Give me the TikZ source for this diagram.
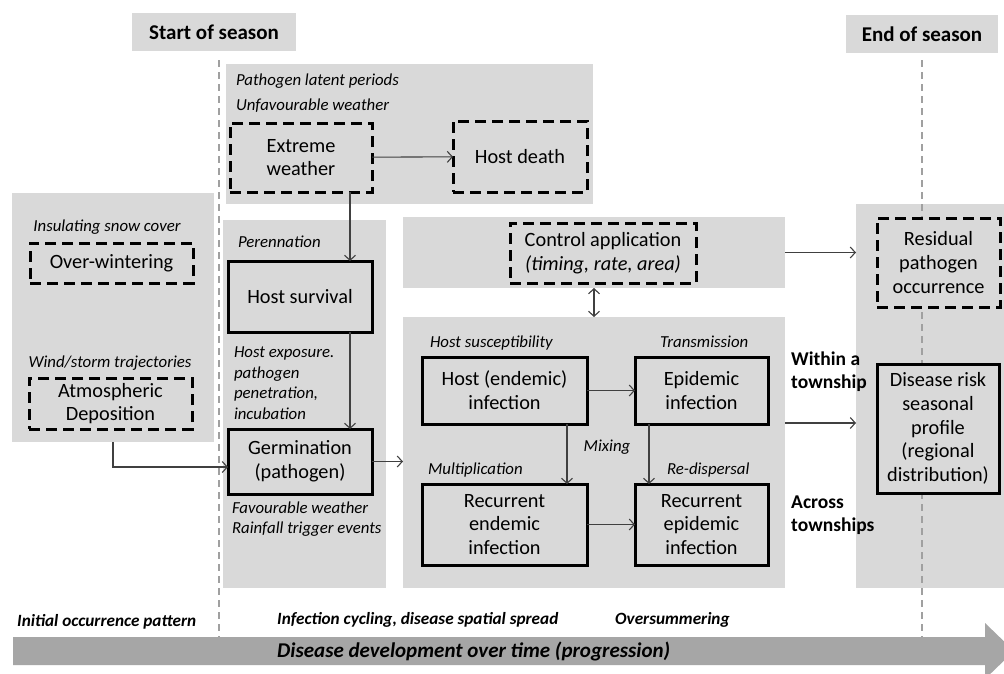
\documentclass[tikz,border=0pt]{standalone}
\usepackage{fontspec}
\setmainfont{Carlito}
\usetikzlibrary{arrows.meta}
\definecolor{gfill}{HTML}{D9D9D9}
\definecolor{arrgray}{HTML}{404040}
\definecolor{dashgray}{HTML}{A0A0A0}
\definecolor{bigarrow}{HTML}{A6A6A6}
\newcommand\fmain{\fontsize{20.3}{23.8}\selectfont}
\newcommand\flab{\fontsize{16.8}{20.5}\selectfont\itshape}
\newcommand\fhead{\fontsize{21}{24}\selectfont\bfseries}
\newcommand\fside{\fontsize{19.5}{23}\selectfont\bfseries}
\newcommand\fbot{\fontsize{17.2}{19}\selectfont\bfseries\itshape}
\newcommand\fbig{\fontsize{21}{24}\selectfont\bfseries\itshape}
\begin{document}
\begin{tikzpicture}[x=1pt,y=-1pt,
  greg/.style={fill=gfill,draw=none,inner sep=0pt,outer sep=0pt},
  sbox/.style={draw=black,line width=3pt,fill=gfill,inner sep=0pt,outer sep=0pt,align=center,font=\fmain},
  dbox/.style={sbox,dash pattern=on 11pt off 6pt},
  lab/.style={inner sep=0pt,outer sep=0pt,font=\flab,align=left},
  arr/.style={draw=arrgray,line width=1.1pt,-{Straight Barb[length=5pt,width=11pt]}},
  darr/.style={draw=arrgray,line width=1.1pt,{Straight Barb[length=5pt,width=11pt]}-{Straight Barb[length=5pt,width=11pt]}},
  vdash/.style={draw=dashgray,line width=1.3pt,dash pattern=on 7pt off 5pt}]
\useasboundingbox (0,0) rectangle (1004,673);
\fill[white] (0,0) rectangle (1004,673);

% grey regions
\node[greg,minimum width=164,minimum height=38,font=\fhead] (startS) at (214,32) {Start of season};
\node[greg,minimum width=152,minimum height=38,font=\fhead] (endS) at (922,34) {End of season};
\node[greg,minimum width=367,minimum height=140] (gTop) at (409.5,134) {};
\node[greg,minimum width=202,minimum height=249] (gLeft) at (113,317.5) {};
\node[greg,minimum width=163,minimum height=368] (gPer) at (304.5,404) {};
\node[greg,minimum width=382,minimum height=71] (gCtrl) at (594,252.5) {};
\node[greg,minimum width=382,minimum height=271] (gMain) at (594,452.5) {};
\node[greg,minimum width=150,minimum height=384] (gRight) at (931,396) {};

% season lines
\coordinate (lt) at (219,60);
\coordinate (lb) at (219,637);
\coordinate (rt) at (922,60);
\coordinate (rb) at (922,637);
\draw[vdash] (lt) -- (lb);
\draw[vdash] (rt) -- (rb);

% big time arrow
\fill[bigarrow] (13,637) -- (985,637) -- (985,623) -- (1014,651) -- (985,679) -- (985,665) -- (13,665) -- cycle;
\node[inner sep=0pt,font=\fbig,anchor=west] (dev) at (277,651) {Disease development over time (progression)};
\node[inner sep=0pt,font=\fbot,anchor=west] (initp) at (17,622) {Initial occurrence pattern};
\node[inner sep=0pt,font=\fbot,anchor=west] (cycl) at (277,620) {Infection cycling, disease spatial spread};
\node[inner sep=0pt,font=\fbot,anchor=west] (overs) at (615,620) {Oversummering};

% boxes
\node[dbox,minimum width=142,minimum height=69] (extreme) at (301,157.5) {Extreme\\weather};
\node[dbox,minimum width=134,minimum height=71] (hdeath) at (520,156.5) {Host death};
\node[dbox,minimum width=163,minimum height=40] (overw) at (111.5,263) {Over-wintering};
\node[dbox,minimum width=163,minimum height=51] (atmos) at (110.5,403.5) {Atmospheric\\Deposition};
\node[sbox,minimum width=144,minimum height=71] (hsurv) at (300,296.5) {Host survival};
\node[sbox,minimum width=144,minimum height=65] (germ) at (300,461.5) {Germination\\(pathogen)};
\node[dbox,minimum width=186,minimum height=60] (ctrl) at (603,253) {Control application\\\textit{(timing, rate, area)}};
\node[sbox,minimum width=165,minimum height=67] (hend) at (504.5,390.5) {Host (endemic)\\infection};
\node[sbox,minimum width=133,minimum height=67] (epid) at (701.5,390.5) {Epidemic\\infection};
\node[sbox,minimum width=165,minimum height=81] (rend) at (504.5,524.5) {Recurrent\\endemic\\infection};
\node[sbox,minimum width=133,minimum height=81] (repi) at (701.5,524.5) {Recurrent\\epidemic\\infection};
\node[dbox,minimum width=123,minimum height=89] (resid) at (938.5,262.5) {Residual\\pathogen\\occurrence};
\node[sbox,minimum width=122,minimum height=129] (drisk) at (938,428.5) {Disease risk\\seasonal\\profile\\(regional\\distribution)};

% labels
\node[lab,anchor=west] (l1) at (236,81) {Pathogen latent periods};
\node[lab,anchor=west] (l2) at (236,106) {Unfavourable weather};
\node[lab] (l3) at (107,227) {Insulating snow cover};
\node[lab] (l4) at (110,363) {Wind/storm trajectories};
\node[lab,anchor=west] (l5) at (238,242) {Perennation};
\node[lab,anchor=west] (l6) at (234,383) {Host exposure.\\pathogen\\penetration,\\incubation};
\node[lab,anchor=west] (l7) at (232,519) {Favourable weather\\Rainfall trigger events};
\node[lab,anchor=west] (l8) at (430,343) {Host susceptibility};
\node[lab,anchor=west] (l9) at (660,342) {Transmission};
\node[lab] (l10) at (607,447) {Mixing};
\node[lab,anchor=west] (l11) at (428,470) {Multiplication};
\node[lab,anchor=west] (l12) at (667,470) {Re-dispersal};
\node[inner sep=0pt,font=\fside,align=left,anchor=west] (within) at (791,371.5) {Within a\\township};
\node[inner sep=0pt,font=\fside,align=left,anchor=west] (across) at (791,515) {Across\\townships};

% connectors
\coordinate (xa) at (350,0);
\coordinate (xb) at (567,0);
\coordinate (xc) at (649,0);
\coordinate (ya) at (0,467);
\coordinate (yb) at (0,423);
\draw[arr] (extreme) -- (hdeath);
\draw[arr] (extreme.south -| xa) -- (hsurv.north -| xa);
\draw[arr] (hsurv.south -| xa) -- (germ.north -| xa);
\draw[arr] (gLeft.south) -- (gLeft.south |- ya) -- (germ.west |- ya);
\draw[arr] (germ.east) -- (germ.east -| gMain.west);
\draw[darr] (gCtrl.south) -- (gMain.north);
\draw[arr] (hend.east) -- (epid.west);
\draw[arr] (rend.east) -- (repi.west);
\draw[arr] (hend.south -| xb) -- (rend.north -| xb);
\draw[arr] (epid.south -| xc) -- (repi.north -| xc);
\draw[arr] (gCtrl.east) -- (gCtrl.east -| gRight.west);
\draw[arr] (gMain.east |- yb) -- (gRight.west |- yb);
\end{tikzpicture}
\end{document}
